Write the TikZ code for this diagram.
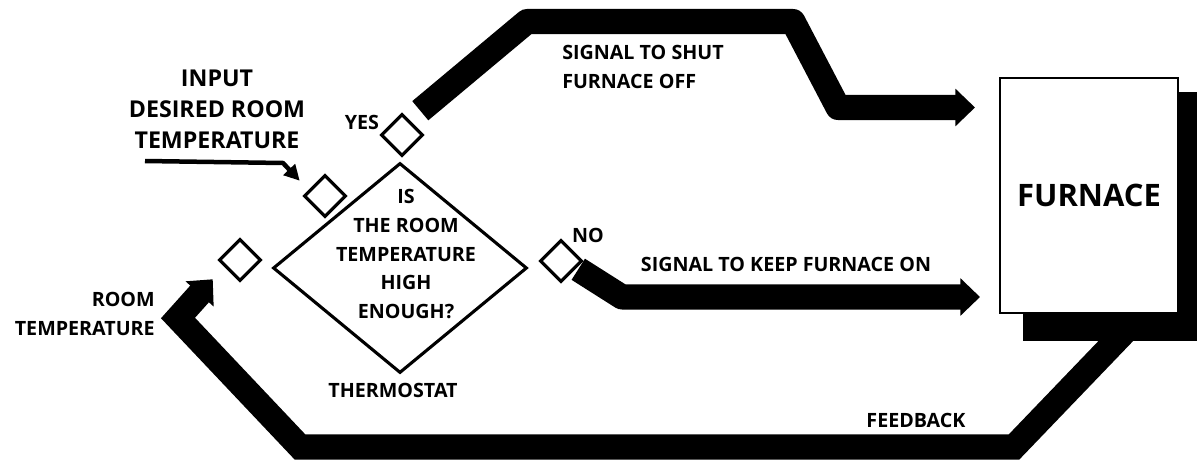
\documentclass[tikz,border=0pt]{standalone}
\usepackage{fontspec}
\setmainfont{Open Sans}
\usetikzlibrary{shapes.geometric,arrows.meta,backgrounds}
\newlength\pxl
\setlength\pxl{0.025cm}

\begin{document}
\begin{tikzpicture}[
    x=0.025cm, y=-0.025cm,
    lbl/.style={font=\fontsize{14}{20.5}\selectfont\bfseries, align=center, inner sep=0pt},
    biglbl/.style={font=\fontsize{16.5}{22}\selectfont\bfseries, align=center, inner sep=0pt},
    port/.style={diamond, draw, line width=2.2pt, minimum width=42\pxl, minimum height=42\pxl, inner sep=0pt},
    testbox/.style={diamond, draw, line width=2.2pt, minimum width=254\pxl, minimum height=210\pxl, inner sep=0pt},
    furnbox/.style={draw, fill=white, line width=2pt, minimum width=178\pxl, minimum height=235\pxl,
        font=\fontsize{22}{26}\selectfont\bfseries},
    band/.style={line width=17.8pt, line join=round, -{Triangle[length=14pt,width=26pt]}},
    feed/.style={line width=3.2pt, -{Triangle[length=11pt,width=11pt]}},
]
\useasboundingbox (0,0) rectangle (1197,460);
\node[testbox] (thermo) at (400,268) {};
\node[lbl] (question) at (406,254) {IS\\THE ROOM\\TEMPERATURE\\HIGH\\ENOUGH?};
\node[port] (yesp) at (402,135) {};
\node[port] (inp) at (325,196) {};
\node[port] (roomp) at (240,260) {};
\node[port] (nop) at (561,261) {};
\node[furnbox] (furnace) at (1089,195.5) {FURNACE};
\begin{scope}[on background layer]
\fill ([shift={(24,15)}]furnace.north west) rectangle ([shift={(30,27)}]furnace.south east);
\end{scope}
\node[biglbl] (desired) at (217,109) {INPUT\\DESIRED ROOM\\TEMPERATURE};
\node[lbl] (yes) at (362,122) {YES};
\node[lbl] (no) at (588,235) {NO};
\node[lbl, align=left, anchor=west] (shut) at (562,67) {SIGNAL TO SHUT\\FURNACE OFF};
\node[lbl] (keep) at (786,264) {SIGNAL TO KEEP FURNACE ON};
\node[lbl, align=right, anchor=east] (room) at (155,314) {ROOM\\TEMPERATURE};
\node[lbl] (thermolbl) at (393,390) {THERMOSTAT};
\node[lbl] (feedback) at (916,420) {FEEDBACK};
\coordinate (inbase) at (145,161);
\coordinate (shutin) at (975,107.5);
\coordinate (keepin) at (980,297);
\draw[feed] (inbase) -- (283,163) -- ([shift={(-14,-4)}]inp.north west);
\draw[band] ([shift={(7,-13)}]yesp.north east) -- (527,21.5) -- (793,21.5) -- (838,107.5) -- (shutin);
\draw[band] ([shift={(6,-3)}]nop.south east) -- (622,297) -- (keepin);
\draw[band, line join=miter] ([shift={(36,17)}]furnace.south) -- (1014,447) -- (300,447) -- (178,318)
    -- ([shift={(-16,8)}]roomp.south west);
\end{tikzpicture}
\end{document}
